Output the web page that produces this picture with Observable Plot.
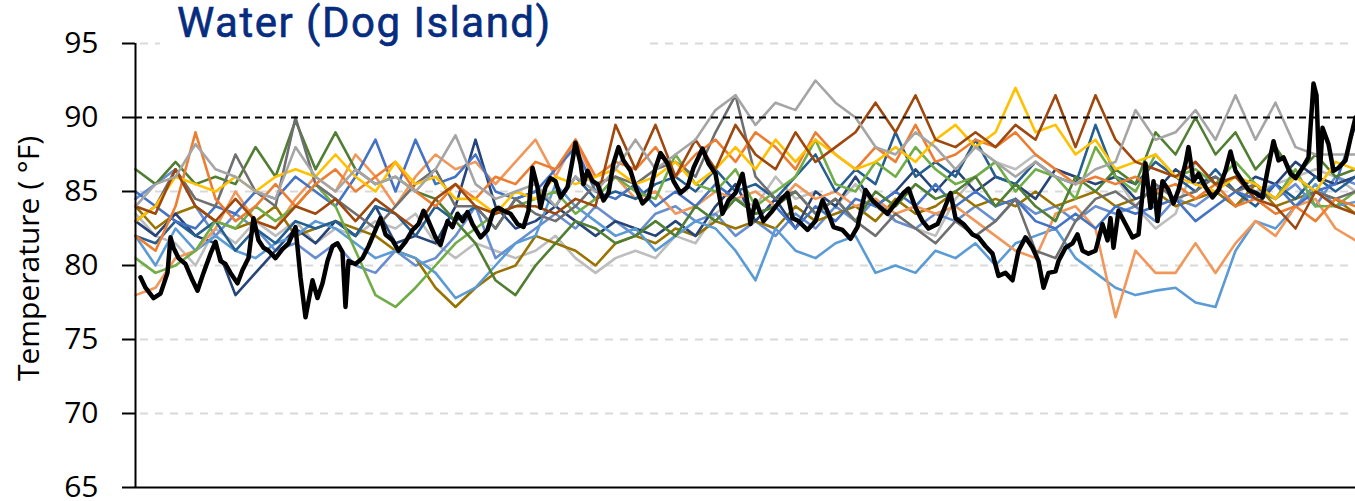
<!DOCTYPE html>
<html><head><meta charset="utf-8">
<script src="https://cdn.jsdelivr.net/npm/d3@7"></script>
<script src="https://cdn.jsdelivr.net/npm/@observablehq/plot@0.6"></script>
<style>
body{margin:0;background:#fff;overflow:hidden}
#wrap{position:relative;width:1355px;height:501px}
#title{position:absolute;left:160px;top:-2px;width:490px;height:58px;background:#fff;font-family:Roboto,sans-serif;font-weight:400;font-size:42px;letter-spacing:1.5px;-webkit-text-stroke:0.6px #062C80;color:#062C80;line-height:50px;padding-left:17px;box-sizing:border-box;z-index:2;white-space:nowrap}
</style></head><body>
<div id="wrap"><div id="title">Water (Dog Island)</div></div>
<script>
// Temperature axis
const yTicks = [65, 70, 75, 80, 85, 90, 95];
const gridValues = [70, 75, 80, 85, 95];
const threshold = 90;
const yLabel = "Temperature ( °F)";
const sampleStep = 2; // days between readings of the colored series

// colored station series (one reading every 2 days, days 0..122)
const grayA = [84,85.5,86,88.2,86.5,86,85,84.5,88,86, 85,86.5,85.5,86,85,86.5,88.8,85.5,84.5,85, 85.5,84,86,85,86.5,88.5,86.5,87.5,88.5,90.5, 91.5,89.5,91,90.5,92.5,91,90,88,87.5,89, 88,86.5,88,87,86,87,86,85.5,86.5,87, 90.5,88.5,89,90.5,88.5,91.5,88.5,91,88,87.5, 87.5,87.5];
const brown = [84,83.5,86.5,84,83,84.5,83,82.5,84,83.5, 84.5,83,84.5,83.5,82.5,84.5,85.5,84,83.5,84, 84,83.5,84.5,84,89.5,86.5,89.5,86,88.5,86.5, 89.5,87.5,86.5,89,87,88,89,91,89,91.5, 88.5,88,89,88,89.5,88.5,91.5,88,91.5,88.5, 87,86.5,86,87,85.5,86,84.5,84,82.5,85, 84,83.5];
const gold = [83,84,86,85.5,85,86,85,86,86.5,86, 87.5,86,85,87,85.5,86,84.5,84.5,83.5,85, 84.5,86,85.5,86,86.5,85.5,86,87,85.5,86.5, 88,86.5,88.5,87,88.5,87.5,86.5,87,88,87, 88.5,89.5,88,89,92,89,89.5,87.5,88.5,86.5, 87,87.5,86,85.5,85,86,85.5,84.5,86,85, 87,86.5];
const orange = [82,81,84,89,84.5,83,84,85.5,84,85.5, 86.5,85,86,87,85,84,85.5,84.5,86,85.5, 87,86.5,88.5,86,87,86.5,88,86,87.5,88.5, 87,89,88,86.5,89,87.5,86.5,88,87,89.5, 87,87.5,88.5,88,89,87.5,86.5,85.5,86,85.5, 86,85,85.5,84.5,85.5,84,84.5,83.5,84,83, 84.5,84];
const peach = [78,78.5,80.5,81,82.5,85,83,82.5,84.5,86, 85,87.5,86,84,86,87.5,86.5,87,85.5,87, 88.5,86,88.5,85.5,86,84.5,85,83.5,84,85, 84.5,85,84,85.5,84.5,85,84,84.5,83.5,84, 83.5,84,83,82,81,80.5,83.5,84,82.5,76.5, 81,79.5,79.5,81.5,79.5,81.5,83,82,84,84.5, 82.5,81.7];
const lightBlue = [82,80,82.5,81,82,81,80.5,81.5,82,83, 82.5,81.5,80.5,81,80.5,79.5,77.8,78.5,80,81.5, 82,85.5,84,83,82,82.5,81,82,83,82.5, 81,79,82.5,81,80.5,81.5,82,79.5,80,79.5, 81,80.5,81.5,80,81.5,82,82.5,80.5,79.5,78.5, 78,78.3,78.5,77.5,77.2,81,83,82.5,84,85.5, 84,84.3];
const green = [80.5,79.5,80,81,83,82.5,84,83,84,85.5, 84,81,78,77.2,78.5,80,81.5,82.5,83.5,84, 84.5,85,83.5,84.5,86,85,84.5,87.5,85.5,85, 86.5,84,85,86,88.5,85.5,85,87,86,88, 86.5,85.5,86,87,85,86.5,86,84.5,88,86, 85,87.5,86,86.5,85.5,87,85.5,84.5,86.5,84, 84,85];
const darkGreen = [86.5,85.5,87,85.5,86,85.5,88,86,89.8,86.5, 89,86.5,85.5,86,85,84.5,83,81.5,79,78, 80,81.5,83,82.5,81.5,82,83,82,84,83, 84.5,83.5,84,85,83.5,84.5,83,85,84,85.5, 84.5,85,86,84,85.5,84,83,86,85,86.5, 85.5,89,87.5,90,87.5,89,86.5,88,86,87.5, 86,86.5];
const darkGray = [83,84,86.5,84.5,84,87.5,85,84,90,85.5, 84.5,83.5,82.5,84,85.5,86.5,84,84,82.5,84.5, 83.5,83,84,85.5,86,85.5,86.5,87,86,89, 91.5,86,84.5,85,83.5,84.5,83,82,83.5,82.5, 81.5,83,82,83,84.5,81,80.5,83,84.5,85, 84,85.5,84.5,85,86,85,85.5,84.5,86,85, 84.5,85];
const darkBlue = [83,82,83.5,82,81.5,78,79.5,81,82.5,81.5, 83,82,84,81.5,82,81.5,84,88.5,84,82.5, 83,84,83,82,83,82.5,82,83,82,84, 85.5,83,84.5,82.5,85,84,86,84,85,86.5, 85,86.5,85,86,85.5,84.5,86.5,86,85.5,86, 84.5,85,86.5,85.5,86,85,86,85.5,87,86, 85.5,86];
const blue = [85,84,83,82.5,84,83.5,85,84.5,86,85, 84,86,88.5,85,88.5,85.5,86,87.5,85,84.5, 85,86.5,88,85,84.5,85.5,84,85,84,85.5, 84.5,83.5,84,82.5,84,83,84.5,84,85,84, 85.5,84,85,84,84.5,83,82.5,83.5,82.5,84, 83.5,84,84.5,83,84,85,84.5,85.5,84,85, 85.5,89.5];
const midBlue = [82,81.5,83,82,83,81,82.5,81.5,83,82.5, 83,82,84,83.5,82,84,83,84,82.5,84.5, 85,84,86,84.5,85,84.5,85.5,86,85,86.5, 85,85.5,84.5,86,87.5,85,86.5,85.5,89,86, 87,86,88.5,86,85.5,87,86,85.5,89.5,86, 85.5,87,86,85,86.5,85,84,85.5,84.5,86, 85,86];
const olive = [84,82.5,83.5,84,83,82.5,83,84,82,82.5, 83,82.5,82,81,80.5,78.5,77.2,78.5,79.5,80, 82,81.5,81,80,81.5,82,81.5,82.5,82,83, 82.5,83,82.5,84,83,83.5,84,83,84.5,83.5, 84,85,84,84.5,84,85,84,84.5,85,84, 84.5,85,84,84.5,85,84,85.5,84,84.5,85, 84.5,83.5];
const lightGray = [83.5,82,81.5,80,82.5,81.5,83,82,83,81.5, 82.5,82,83,82.5,83.5,81.5,80.5,81.5,81,80.5, 81,82,80.5,79.5,80.5,81,80.5,82,81.5,83.5, 84.5,84,86,84.5,85,84,85.5,84,83,82.5, 82,84.5,86,87,86.5,87.5,86.5,86,85.5,86, 84,82.5,83.5,87,85.5,86,85,85.5,86,86.5, 86,85];
const cornflower = [84.5,85.5,86.5,84,82,83.5,82.5,81,81.5,80.5, 81.5,80,79.5,81,80,80.5,82,84,80.5,81.5, 82.5,83.5,82.5,84,83,82,83.5,84,83,83.5, 82,83,82,83.5,82.5,84,83,84.5,83,82.5, 83.5,83,84,83,84.5,83.5,84,83,84,83.5, 84,83,84.5,84,85,84,85,84.5,85.5,84, 86,85.5];

// Dog Island reference station (thick black), day and temperature
const blackDay = [0.5,1,1.8,2.5,3.2,3.5,3.8,4.3,5,5.7,6.2,6.8,7.5,8,8.5,9,9.5,10.2,10.7,11.3,11.8,12.3,12.8,13.3,14,14.7,15.3,16,16.5,17,17.7,18.2,18.7,19.2,19.7,20.2,20.7,21,21.3,22,22.7,23.3,24,24.5,25,25.7,26.3,27,27.7,28.3,28.8,29.3,30,30.5,31.2,31.7,32.2,32.7,33.2,33.7,34.5,35.2,35.8,36.3,36.8,37.5,38.2,38.8,39.3,39.7,40.2,40.5,41,41.5,42,42.5,43.2,43.7,44,44.5,44.8,45.2,45.7,46.2,46.8,47.3,47.8,48.3,48.8,49.5,50,50.7,51.3,52,52.5,53.2,53.8,54.5,55.2,55.8,56.7,57.3,58,58.7,59.3,60,60.7,61.2,61.5,62,62.8,63.7,64.5,65.2,65.7,66.3,67.2,68,68.7,69.3,69.8,70.7,71.5,72.2,73,73.7,74.5,75.2,76,76.8,77.3,78,78.7,79.3,80.2,80.8,81.5,82,82.8,83.7,84.3,85,85.7,86.3,87,87.7,88.3,89,89.7,90.3,90.8,91.3,92,92.3,93,93.7,94.2,94.7,95.3,96,96.7,97.2,97.5,97.8,98.3,99,99.7,100.3,101,101.5,101.8,102.2,102.7,103.3,103.8,104.3,105,105.3,105.8,106.3,107,107.7,108.3,109,109.5,110,110.7,111.3,112,112.7,113.2,113.8,114.3,114.8,115.5,116,116.7,117.3,117.8,118.1,118.4,118.7,119.3,119.8,120.3,121,121.5,122];
const blackTemp = [79.2,78.5,77.8,78.1,79.5,81.9,81.2,80.5,80.1,79,78.3,79.5,80.8,81.6,80.3,80.1,79.5,78.8,79.7,80.5,83.2,81.7,81.2,81,80.5,81.1,81.5,82.6,79.2,76.5,79,77.8,78.8,80.3,81.3,81.5,80.9,77.2,80.3,80.1,80.5,81.3,82.4,83.2,82.1,81.7,81,81.6,82.4,82.8,83.7,83,81.9,81.4,83,82.6,83.5,83,83.6,82.8,81.9,82.4,83.7,83.9,83.7,83.5,82.8,82.6,83.7,86.6,85.3,83.9,85.3,85.9,85.7,84.6,85.3,87.1,88.3,86.9,85.5,86.4,85.7,85.5,84.4,84.9,86.9,88,87.1,86.4,85.3,84.2,84.6,86.6,87.6,86.9,85.7,84.9,85.3,86.6,87.9,86.9,86.2,83.5,84.4,84.9,86.2,84.2,82.8,84.4,83,83.7,84.4,84.9,83.2,83,82.4,83,84.4,83.5,82.6,82.4,81.8,82.6,85.1,84.4,83.9,83.5,84.2,84.9,85.2,83.9,83,82.5,82.8,83.7,84.9,83.2,82.8,82.1,81.9,81.3,80.8,79.3,79.5,79,81,81.9,81.2,80.3,78.5,79.5,79.6,80.3,81.2,81.5,82.1,81,80.8,81,82.8,81.7,83.2,81.2,83.7,82.8,81.9,82.1,86.9,83.9,85.7,83,85.7,85.1,84.2,85.1,86.9,88,85.7,86.2,85.3,84.6,85.1,86.4,87.7,86.4,85.7,85.1,84.9,84.6,86.4,88.4,87.1,87.3,86.2,85.9,86.6,87.3,92.3,91.5,85.8,89.3,88.2,86.4,86.6,87.1,88.6,90];

const series = [
  {values: lightGray, color: "#BDBDBD"},
  {values: cornflower, color: "#698ED0"},
  {values: olive, color: "#997300"},
  {values: darkBlue, color: "#264478"},
  {values: lightBlue, color: "#5B9BD5"},
  {values: peach, color: "#F1975A"},
  {values: midBlue, color: "#255E91"},
  {values: blue, color: "#4472C4"},
  {values: green, color: "#70AD47"},
  {values: darkGreen, color: "#507E32"},
  {values: darkGray, color: "#6F6F6F"},
  {values: orange, color: "#ED7D31"},
  {values: gold, color: "#FFC000"},
  {values: brown, color: "#9E480E"},
  {values: grayA, color: "#A5A5A5"}
];

const black = blackDay.map((d, i) => ({day: d, temp: blackTemp[i]}));

const chart = Plot.plot({
  width: 1355,
  height: 501,
  marginLeft: 135,
  marginRight: 0,
  marginTop: 43,
  marginBottom: 14,
  style: {fontFamily: "'Open Sans', sans-serif", color: "black", background: "white", overflow: "visible"},
  x: {domain: [0, 122], axis: null},
  y: {domain: [65, 95]},
  marks: [
    Plot.ruleY(gridValues, {stroke: "#D9D9D9", strokeWidth: 2, strokeDasharray: "8,7", dx: 5}),
    ...series.map(s => Plot.line(s.values, {x: (d, i) => i * sampleStep, y: d => d, stroke: s.color, strokeWidth: 2.6, strokeLinejoin: "round"})),
    Plot.ruleY([threshold], {stroke: "black", strokeWidth: 2, strokeDasharray: "7,5"}),
    Plot.line(black, {x: "day", y: "temp", stroke: "black", strokeWidth: 4.5, strokeLinejoin: "round"}),
    Plot.ruleX([0], {stroke: "black", strokeWidth: 2}),
    Plot.ruleY([65], {stroke: "black", strokeWidth: 2}),
    Plot.axisY({ticks: yTicks, tickFormat: d => String(d), tickSize: 13, tickPadding: 24, fontSize: 30, stroke: "black", strokeWidth: 2, label: null}),
    Plot.text([yLabel], {frameAnchor: "left", dx: -106, dy: -7, rotate: -90, fontSize: 30, textAnchor: "middle", lineAnchor: "middle", fill: "black"})
  ]
});
document.getElementById("wrap").prepend(chart);
</script>
</body></html>
